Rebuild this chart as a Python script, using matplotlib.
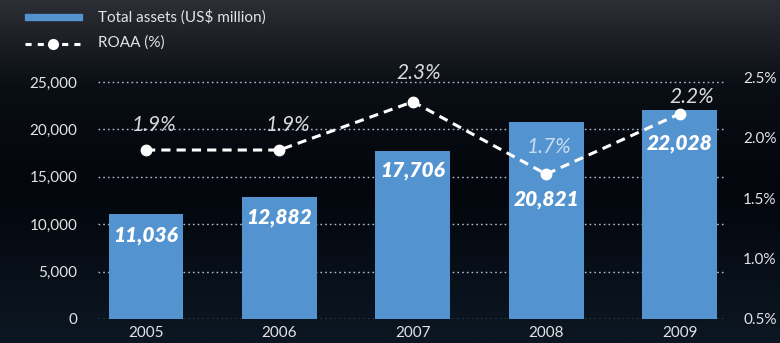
import numpy as np
import matplotlib.pyplot as plt
from matplotlib.lines import Line2D
from matplotlib.patches import Rectangle
from matplotlib.colors import LinearSegmentedColormap

# Dados do gráfico
anos = ['2005', '2006', '2007', '2008', '2009']
ativos = [11036, 12882, 17706, 20821, 22028]
roaa = [1.9, 1.9, 2.3, 1.7, 2.2]
yticks_esq = [0, 5000, 10000, 15000, 20000, 25000]
yticks_dir = [0.5, 1.0, 1.5, 2.0, 2.5]

# deslocamento (pontos) dos rótulos das barras e da linha
desloc_barra = [-15, -15, -14, -56, -24]
desloc_roaa = [(6, 18), (6, 18), (4, 21), (2, 19.5), (9, 12)]

azul = '#5393cf'
texto = '#e2e4e8'
plt.rcParams['font.family'] = ['Lato', 'DejaVu Sans']

fig = plt.figure(figsize=(7.8, 3.43), dpi=100)

# Fundo em degradê
bg = fig.add_axes([0, 0, 1, 1], zorder=-10)
cmap = LinearSegmentedColormap.from_list('bg', [(0, '#0c1723'), (0.45, '#03060c'),
                                                (0.75, '#0a0e15'), (1, '#2c2f35')])
grad = np.linspace(0, 1, 256).reshape(-1, 1)
bg.imshow(grad, cmap=cmap, aspect='auto', origin='lower', extent=[0, 1, 0, 1])
bg.set_axis_off()

W, H = 780, 343
ax = fig.add_axes([98 / W, 1 - 319 / H, (725 - 98) / W, (319 - 77.6) / H])
ax.set_facecolor('none')
x = np.arange(len(anos))
ax.set_xlim(-0.36, 4.34)
ax.set_ylim(0, 25000 * 241.4 / 237)

for v in yticks_esq:
    ax.axhline(v, color='#aebdd0', lw=1, ls=(0, (1.2, 2.2)), zorder=1)

barras = ax.bar(x, ativos, width=0.56, color=azul, zorder=2)
for i, (b, v) in enumerate(zip(barras, ativos)):
    ax.annotate(f'{v:,}', (b.get_x() + b.get_width() / 2, v), xytext=(0, desloc_barra[i]),
                textcoords='offset points', ha='center', va='center', color='white',
                fontsize=15, fontweight='heavy', fontstyle='italic', zorder=5)

ax.set_yticks(yticks_esq)
ax.set_yticklabels([f'{v:,}' for v in yticks_esq])
ax.set_xticks(x)
ax.set_xticklabels(anos)
ax.tick_params(length=0, colors=texto, labelsize=11)
ax.tick_params(axis='y', pad=15)
ax.tick_params(axis='x', pad=5)
for s in ax.spines.values():
    s.set_visible(False)

ax2 = ax.twinx()
ax2.set_ylim(0.5, 2.5)
ax2.plot(x, roaa, color='white', lw=2.2, ls=(0, (3, 2)), marker='o', ms=7.5, zorder=4)
for i, v in enumerate(roaa):
    cor = '#c5dcf2' if i == 3 else '#d8dade'
    ax2.annotate(f'{v}%', (x[i], v), xytext=desloc_roaa[i], textcoords='offset points',
                 ha='center', va='center', color=cor, fontsize=15, fontstyle='italic')
ax2.set_yticks(yticks_dir)
ax2.set_yticklabels([f'{v:.1f}%' for v in yticks_dir])
ax2.tick_params(length=0, colors=texto, labelsize=11, pad=13)
for s in ax2.spines.values():
    s.set_visible(False)

# Legenda manual
fig.add_artist(Rectangle((25 / W, 1 - 20 / H), 57 / W, 6 / H, color=azul))
fig.text(98 / W, 1 - 17 / H, 'Total assets (US$ million)', color=texto, fontsize=11, va='center')
fig.add_artist(Line2D([25 / W, 82 / W], [1 - 44 / H, 1 - 44 / H], color='white', lw=2.2,
                      ls=(0, (2, 2))))
fig.add_artist(Line2D([53 / W], [1 - 44 / H], color='white', marker='o', ms=7))
fig.text(98 / W, 1 - 43 / H, 'ROAA (%)', color=texto, fontsize=11, va='center')

fig.savefig('out.png', dpi=100)
